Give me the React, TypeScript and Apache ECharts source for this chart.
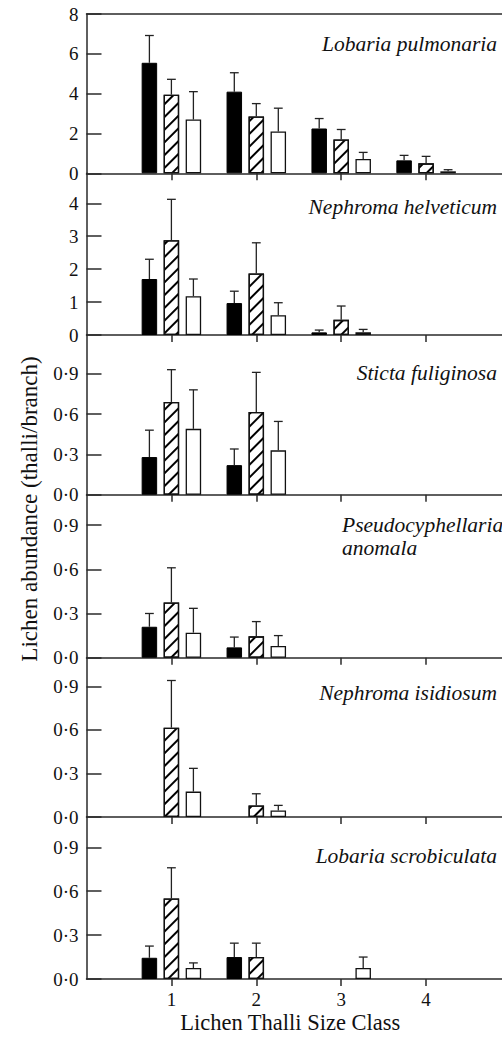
import React, { useEffect, useRef } from 'react';
import * as echarts from 'echarts';

// ---------- data ----------
const sizeClasses = [1, 2, 3, 4];
const xTickValues = [1, 2, 3, 4];
const xAxisTitle = 'Lichen Thalli Size Class';
const yAxisTitle = 'Lichen abundance (thalli/branch)';
const groupNames = ['black', 'hatched', 'open'];

const speciesNames = [
  'Lobaria pulmonaria',
  'Nephroma helveticum',
  'Sticta fuliginosa',
  'Pseudocyphellaria\nanomala',
  'Nephroma isidiosum',
  'Lobaria scrobiculata',
];

const yTicksP1 = [0, 2, 4, 6, 8];
const yTicksP2 = [0, 1, 2, 3, 4];
const yTicksSmall = [0, 0.3, 0.6, 0.9];

// Lobaria pulmonaria: means and upper ends of error bars
const lpBlack = [5.55, 4.1, 2.25, 0.65];
const lpBlackErr = [6.92, 5.05, 2.75, 0.9];
const lpHatch = [3.95, 2.85, 1.7, 0.5];
const lpHatchErr = [4.72, 3.5, 2.2, 0.85];
const lpOpen = [2.7, 2.1, 0.72, 0.1];
const lpOpenErr = [4.1, 3.27, 1.05, 0.18];

// Nephroma helveticum
const nhBlack = [1.7, 0.97, 0.08, null];
const nhBlackErr = [2.3, 1.33, 0.15, null];
const nhHatch = [2.88, 1.87, 0.46, null];
const nhHatchErr = [4.12, 2.8, 0.88, null];
const nhOpen = [1.18, 0.6, 0.08, null];
const nhOpenErr = [1.7, 0.98, 0.17, null];

// Sticta fuliginosa
const sfBlack = [0.28, 0.22, null, null];
const sfBlackErr = [0.48, 0.34, null, null];
const sfHatch = [0.69, 0.615, null, null];
const sfHatchErr = [0.93, 0.91, null, null];
const sfOpen = [0.49, 0.33, null, null];
const sfOpenErr = [0.78, 0.545, null, null];

// Pseudocyphellaria anomala
const paBlack = [0.21, 0.07, null, null];
const paBlackErr = [0.3, 0.14, null, null];
const paHatch = [0.375, 0.145, null, null];
const paHatchErr = [0.61, 0.245, null, null];
const paOpen = [0.17, 0.08, null, null];
const paOpenErr = [0.335, 0.15, null, null];

// Nephroma isidiosum
const niBlack = [null, null, null, null];
const niBlackErr = [null, null, null, null];
const niHatch = [0.615, 0.08, null, null];
const niHatchErr = [0.94, 0.16, null, null];
const niOpen = [0.175, 0.045, null, null];
const niOpenErr = [0.335, 0.08, null, null];

// Lobaria scrobiculata
const lsBlack = [0.145, 0.15, null, null];
const lsBlackErr = [0.225, 0.245, null, null];
const lsHatch = [0.55, 0.15, null, null];
const lsHatchErr = [0.76, 0.245, null, null];
const lsOpen = [0.075, null, 0.075, null];
const lsOpenErr = [0.11, null, 0.15, null];

type Arr = (number | null)[];
const panels: { means: Arr[]; errs: Arr[]; ticks: number[] }[] = [
  { means: [lpBlack, lpHatch, lpOpen], errs: [lpBlackErr, lpHatchErr, lpOpenErr], ticks: yTicksP1 },
  { means: [nhBlack, nhHatch, nhOpen], errs: [nhBlackErr, nhHatchErr, nhOpenErr], ticks: yTicksP2 },
  { means: [sfBlack, sfHatch, sfOpen], errs: [sfBlackErr, sfHatchErr, sfOpenErr], ticks: yTicksSmall },
  { means: [paBlack, paHatch, paOpen], errs: [paBlackErr, paHatchErr, paOpenErr], ticks: yTicksSmall },
  { means: [niBlack, niHatch, niOpen], errs: [niBlackErr, niHatchErr, niOpenErr], ticks: yTicksSmall },
  { means: [lsBlack, lsHatch, lsOpen], errs: [lsBlackErr, lsHatchErr, lsOpenErr], ticks: yTicksSmall },
];

// ---------- layout (pixels) ----------
const panelTop = [14, 173.3, 335, 494.7, 657.7, 817];
const panelZero = [173.3, 335, 494.7, 657.7, 817, 979];
const panelYMax = [8, 4.91, 1.188, 1.106, 1.097, 1.107];
const speciesY = [44, 206.7, 373.3, 536.5, 693.3, 856];
const GRID_LEFT = 86.5;
const X_MAX = 4.894;
const BAR_W = 15.5;
const BAR_GAP = 6.5;
const FONT = 'Liberation Serif';
const AXIS_COLOR = '#2a2a2a';

function fmtTick(v: number, panel: number) {
  if (panel < 2) return String(Math.round(v));
  return v.toFixed(1).replace('.', '·');
}

function buildOption() {
  const grid: any[] = [];
  const xAxis: any[] = [];
  const yAxis: any[] = [];
  const series: any[] = [];
  const last = panels.length - 1;

  panels.forEach((p, i) => {
    grid.push({
      left: GRID_LEFT,
      right: 0,
      top: panelTop[i],
      height: panelZero[i] - panelTop[i],
      outerBoundsMode: 'none',
      containLabel: false,
    });
    xAxis.push({
      type: 'value',
      gridIndex: i,
      min: 0,
      max: X_MAX,
      position: 'bottom',
      splitLine: { show: false },
      axisLine: { show: true, onZero: false, lineStyle: { color: AXIS_COLOR, width: 1.5 } },
      axisTick: {
        show: true,
        customValues: xTickValues,
        inside: false,
        length: 7,
        lineStyle: { color: AXIS_COLOR, width: 1.5 },
      },
      axisLabel: {
        show: i === last,
        customValues: xTickValues,
        margin: 11,
        fontFamily: FONT,
        fontSize: 19,
        color: '#111',
        formatter: (v: number) => String(v),
      },
      name: i === last ? xAxisTitle : '',
      nameLocation: 'middle',
      nameGap: 32,
      nameTextStyle: { fontFamily: FONT, fontSize: 22.5, color: '#111', padding: [0, 8, 0, 0] },
    });
    yAxis.push({
      type: 'value',
      gridIndex: i,
      min: 0,
      max: panelYMax[i],
      splitLine: { show: false },
      axisLine: { show: true, lineStyle: { color: AXIS_COLOR, width: 1.5 } },
      axisTick: {
        show: true,
        inside: true,
        length: 15,
        customValues: p.ticks,
        lineStyle: { color: AXIS_COLOR, width: 1.5 },
      },
      axisLabel: {
        customValues: p.ticks,
        margin: 8,
        fontFamily: FONT,
        fontSize: 19,
        color: '#111',
        formatter: (v: number) => fmtTick(v, i),
      },
    });

    const offsetStep = BAR_W + BAR_GAP;
    p.means.forEach((m, g) => {
      const data = sizeClasses
        .map((c, k) => (m[k] == null ? null : [c, m[k]]))
        .filter((d) => d !== null);
      const itemStyle: any =
        g === 0
          ? { color: '#000', borderColor: '#000', borderWidth: 1 }
          : { color: '#fff', borderColor: '#111', borderWidth: 1.3 };
      if (g === 1) {
        itemStyle.decal = {
          symbol: 'rect',
          symbolSize: 1,
          color: '#000',
          dashArrayX: [1, 0],
          dashArrayY: [1.3, 6.5],
          rotation: -Math.PI / 4,
        };
      }
      series.push({
        type: 'bar',
        name: groupNames[g] + i,
        xAxisIndex: i,
        yAxisIndex: i,
        barWidth: BAR_W,
        barGap: (BAR_GAP / BAR_W) * 100 + '%',
        data,
        itemStyle,
        z: 2,
      });
      const errs = p.errs[g];
      const errData = sizeClasses
        .map((c, k) => (m[k] == null || errs[k] == null ? null : [c, m[k], errs[k]]))
        .filter((d) => d !== null);
      const dx = (g - 1) * offsetStep;
      series.push({
        type: 'custom',
        name: groupNames[g] + 'err' + i,
        xAxisIndex: i,
        yAxisIndex: i,
        encode: { x: 0, y: [1, 2] },
        data: errData,
        z: 3,
        renderItem: (params: any, api: any) => {
          const x = api.value(0);
          const b = api.coord([x, api.value(1)]);
          const t = api.coord([x, api.value(2)]);
          const cx = b[0] + dx;
          const st = { stroke: '#222', lineWidth: 1.3 };
          return {
            type: 'group',
            children: [
              { type: 'line', shape: { x1: cx, y1: b[1], x2: cx, y2: t[1] }, style: st },
              { type: 'line', shape: { x1: cx - 4.4, y1: t[1], x2: cx + 4.4, y2: t[1] }, style: st },
            ],
          };
        },
      });
    });
  });

  // top frame line of first panel
  xAxis.push({
    type: 'value',
    gridIndex: 0,
    min: 0,
    max: X_MAX,
    position: 'top',
    splitLine: { show: false },
    axisLine: { show: true, onZero: false, lineStyle: { color: AXIS_COLOR, width: 1.5 } },
    axisTick: { show: false },
    axisLabel: { show: false },
  });

  const graphic: any[] = speciesNames.map((name, i) => {
    const multi = name.includes('\n');
    return {
      type: 'text',
      right: multi ? undefined : 5,
      x: multi ? 342 : undefined,
      y: speciesY[i],
      style: {
        text: name,
        fontFamily: FONT,
        fontStyle: 'italic',
        fontSize: 21.5,
        fill: '#111',
        textAlign: multi ? 'left' : 'right',
        textVerticalAlign: 'middle',
        lineHeight: 23,
      },
    };
  });
  graphic.push({
    type: 'text',
    x: 29,
    y: 509,
    rotation: Math.PI / 2,
    style: {
      text: yAxisTitle,
      fontFamily: FONT,
      fontSize: 23,
      fill: '#111',
      textAlign: 'center',
      textVerticalAlign: 'middle',
    },
  });

  return {
    animation: false,
    backgroundColor: '#fff',
    textStyle: { fontFamily: FONT },
    grid,
    xAxis,
    yAxis,
    series,
    graphic,
  };
}

export default function App() {
  const ref = useRef<HTMLDivElement>(null);
  useEffect(() => {
    if (!ref.current) return;
    const chart = echarts.init(ref.current, undefined, { renderer: 'svg' });
    chart.setOption(buildOption() as any);
    return () => chart.dispose();
  }, []);
  return (
    <div
      ref={ref}
      style={{ position: 'absolute', left: 0, top: 0, width: 502, height: 1037, background: '#fff' }}
    />
  );
}
